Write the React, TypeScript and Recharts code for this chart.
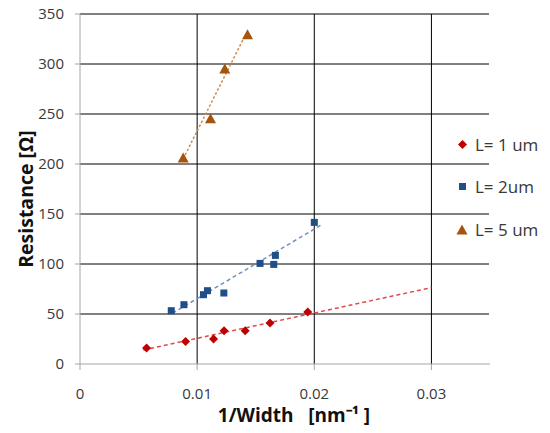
import React from 'react';
import { ScatterChart, Scatter, XAxis, YAxis, Label, ReferenceLine } from 'recharts';

// L = 1 um
const l1X = [0.00568, 0.00901, 0.0114, 0.0123, 0.0141, 0.01622, 0.01944];
const l1Y = [16, 22.6, 25, 33.3, 33.3, 41, 52];
// L = 2 um
const l2X = [0.00779, 0.00887, 0.01054, 0.01088, 0.01228, 0.01537, 0.01654, 0.01668, 0.02];
const l2Y = [53.3, 59.3, 69.3, 73.3, 71, 100.6, 99.6, 108.6, 141.6];
// L = 5 um
const l5X = [0.00881, 0.01114, 0.01236, 0.0143];
const l5Y = [206, 245.3, 295, 329.3];

// trend line end points
const trend1X = [0.0054, 0.03];
const trend1Y = [14, 76.4];
const trend2X = [0.0079, 0.0207];
const trend2Y = [50.8, 139.8];
const trend5X = [0.0088, 0.0139];
const trend5Y = [205, 324];

const xTicks = [0, 0.01, 0.02, 0.03];
const xGridValues = [0.01, 0.02, 0.03];
const yTicks = [0, 50, 100, 150, 200, 250, 300, 350];
const yGridValues = [50, 100, 150, 200, 250, 300, 350];

const seriesNames = ['L= 1 um', 'L= 2um', 'L= 5 um'];
const markerColors = ['#c00000', '#1f4e89', '#a5540e'];
const trendColors = ['#e04a4a', '#6f90bd', '#cf8a52'];
const trendDash = ['4 3', '4 3', '2.5 2'];

const zip = (xs: number[], ys: number[]) => xs.map((x, i) => ({ x, y: ys[i] }));
const trends = [zip(trend1X, trend1Y), zip(trend2X, trend2Y), zip(trend5X, trend5Y)];

const FONT = '"Open Sans", sans-serif';
const TEXT = '#383838';

const Diamond = (p: any) => {
  const { cx, cy } = p;
  const r = 4.5;
  return <polygon points={`${cx},${cy - r} ${cx + r},${cy} ${cx},${cy + r} ${cx - r},${cy}`} fill={markerColors[0]} />;
};
const Square = (p: any) => {
  const { cx, cy } = p;
  return <rect x={cx - 3.5} y={cy - 3.5} width={7} height={7} fill={markerColors[1]} />;
};
const Triangle = (p: any) => {
  const { cx, cy } = p;
  return <polygon points={`${cx},${cy - 5.5} ${cx + 5.5},${cy + 4.5} ${cx - 5.5},${cy + 4.5}`} fill={markerColors[2]} />;
};

const legendIcons = [
  <svg width={11} height={11}><polygon points="5.5,1 10,5.5 5.5,10 1,5.5" fill={markerColors[0]} /></svg>,
  <svg width={11} height={11}><rect x={2} y={2} width={7} height={7} fill={markerColors[1]} /></svg>,
  <svg width={12} height={11}><polygon points="6,0.5 11.5,10.5 0.5,10.5" fill={markerColors[2]} /></svg>,
];
const legendCenters = [144, 186, 229];

export default function App() {
  return (
    <div style={{ position: 'absolute', left: 0, top: 0, width: 550, height: 433, background: '#fff' }}>
      <ScatterChart width={550} height={433} margin={{ top: 14, right: 60, bottom: 0, left: 0 }}>
        {yGridValues.map((v) => (
          <ReferenceLine key={'h' + v} y={v} stroke="#000" strokeWidth={1} />
        ))}
        {xGridValues.map((v) => (
          <ReferenceLine key={'v' + v} x={v} stroke="#000" strokeWidth={1} />
        ))}
        {trends.map((seg, i) => (
          <ReferenceLine
            key={'t' + i}
            segment={seg}
            stroke={trendColors[i]}
            strokeWidth={1.5}
            strokeDasharray={trendDash[i]}
          />
        ))}
        <XAxis
          type="number"
          dataKey="x"
          domain={[0, 0.035]}
          ticks={xTicks}
          height={69}
          tickSize={6}
          tickMargin={18}
          axisLine={{ stroke: '#a6a6a6' }}
          tickLine={{ stroke: '#a6a6a6' }}
          tick={{ fill: TEXT, fontSize: 15, fontFamily: FONT }}
          tickFormatter={(v: number) => (v === 0 ? '0' : String(v))}
        >
          <Label
            content={() => (
              <text x={294} y={422} textAnchor="middle" fontFamily={FONT} fontWeight="bold" fontSize={19} fill="#111" style={{ whiteSpace: 'pre' }}>
                {'1/Width   [nm⁻¹ ]'}
              </text>
            )}
          />
        </XAxis>
        <YAxis
          type="number"
          dataKey="y"
          domain={[0, 350]}
          ticks={yTicks}
          width={80}
          tickSize={5}
          tickMargin={11}
          axisLine={{ stroke: '#a6a6a6' }}
          tickLine={{ stroke: '#a6a6a6' }}
          tick={{ fill: TEXT, fontSize: 15, fontFamily: FONT }}
        >
          <Label
            content={() => (
              <text x={25} y={199} transform="rotate(-90 25 199)" textAnchor="middle" dominantBaseline="central" fontFamily={FONT} fontWeight="bold" fontSize={19.5} fill="#111">
                Resistance [Ω]
              </text>
            )}
          />
        </YAxis>
        <Scatter name={seriesNames[0]} data={zip(l1X, l1Y)} shape={Diamond} isAnimationActive={false} />
        <Scatter name={seriesNames[1]} data={zip(l2X, l2Y)} shape={Square} isAnimationActive={false} />
        <Scatter name={seriesNames[2]} data={zip(l5X, l5Y)} shape={Triangle} isAnimationActive={false} />
      </ScatterChart>
      <div style={{ position: 'absolute', left: 489, top: 12, width: 4, height: 351, background: '#fff' }} />
      {seriesNames.map((name, i) => (
        <div
          key={name}
          style={{
            position: 'absolute',
            left: 453,
            top: legendCenters[i] - 11,
            height: 22,
            display: 'flex',
            alignItems: 'center',
            fontFamily: FONT,
            fontSize: 17,
            color: TEXT,
            whiteSpace: 'nowrap',
          }}
        >
          <span style={{ display: 'inline-flex', width: 18, justifyContent: 'center' }}>{legendIcons[i]}</span>
          <span style={{ marginLeft: 4 }}>{name}</span>
        </div>
      ))}
    </div>
  );
}
